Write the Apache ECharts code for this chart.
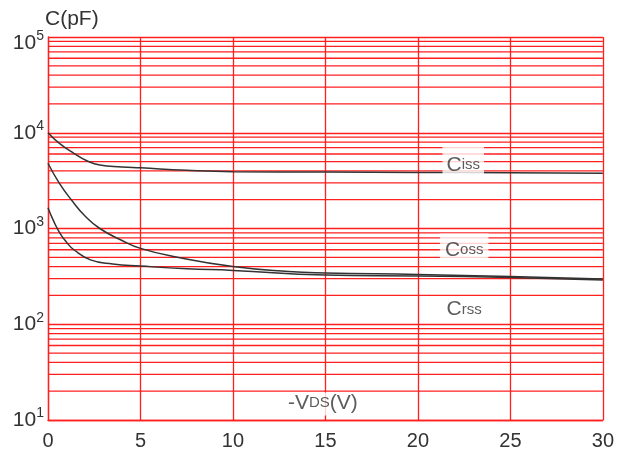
<!DOCTYPE html>
<html>
<head>
<meta charset="utf-8">
<script src="https://cdn.jsdelivr.net/npm/echarts@6/dist/echarts.min.js"></script>
<style>
html,body{margin:0;padding:0;background:#fff;}
#c{width:617px;height:453px;}
</style>
</head>
<body>
<div id="c"></div>
<script>
// Curve data: [ -VDS (V), C (pF) ]
const ciss = [[0,10000],[0.6,7800],[1.4,6100],[2.1,5100],[2.8,4600],[4,4400],[5,4300],[7.5,4050],[10,3920],[15,3880],[20,3850],[25,3820],[30,3780]];
const coss = [[0,4800],[0.6,3000],[1.3,1950],[2,1350],[2.8,1000],[4,750],[5,620],[7,500],[10,400],[13,355],[15,343],[20,331],[25,315],[30,297]];
const crss = [[0,1650],[0.3,1200],[0.65,890],[1,720],[1.4,600],[2.3,470],[3.5,425],[5,405],[7.5,380],[10,365],[15,327],[20,319],[25,308],[30,290]];
const xTicks = [0,5,10,15,20,25,30];
const yDecades = [10,100,1000,10000,100000];

// minor log grid positions (2..9 × each decade)
const minorGrid = [];
for (let d = 0; d < yDecades.length - 1; d++) {
  for (let k = 2; k <= 9; k++) minorGrid.push(yDecades[d] * k);
}

const RED = '#ff1f1f';
const TXT = '#333';
const FF = 'Liberation Sans';

const chart = echarts.init(document.getElementById('c'), null, {renderer:'canvas'});
chart.setOption({
  animation: false,
  color: [RED],
  backgroundColor: '#fff',
  grid: {left: 48, right: 12, top: 37, bottom: 33, containLabel: false},
  xAxis: {
    type: 'value', min: 0, max: 30, interval: 5,
    axisLine: {show: true, onZero: false, lineStyle: {color: RED, width: 1.3}},
    axisTick: {show: false},
    axisLabel: {fontSize: 20, color: TXT, margin: 11, fontFamily: FF},
    splitLine: {show: true, lineStyle: {color: RED, width: 1.3}}
  },
  yAxis: {
    type: 'log', min: 10, max: 100000, logBase: 10,
    name: 'C(pF)', nameLocation: 'end', nameGap: 4,
    nameTextStyle: {fontSize: 21, color: TXT, align: 'left', verticalAlign: 'bottom', padding: [0,0,0,-3], fontFamily: FF},
    axisLine: {show: true, onZero: false, lineStyle: {color: RED, width: 1.3}},
    axisTick: {show: false},
    minorTick: {show: false},
    minorSplitLine: {show: false},
    axisLabel: {
      margin: 4, color: TXT, fontFamily: FF,
      formatter: function (v) {
        const e = Math.round(Math.log10(v));
        if (e === 5) return '{bt|10}{st|' + e + '}';
        return '{b|10}{s|' + e + '}';
      },
      rich: {
        b: {fontSize: 21, color: TXT, fontFamily: FF},
        s: {fontSize: 14, color: TXT, padding: [0,0,13,0], fontFamily: FF},
        bt: {fontSize: 21, color: TXT, padding: [12,0,0,0], fontFamily: FF},
        st: {fontSize: 14, color: TXT, padding: [0,0,1,0], fontFamily: FF}
      }
    },
    splitLine: {show: true, lineStyle: {color: RED, width: 1.3}}
  },
  series: [
    {
      name: 'minorGrid', type: 'custom', silent: true, z: 4,
      data: minorGrid.map(v => [xTicks[0], v]),
      encode: {x: 0, y: 1},
      renderItem: function (params, api) {
        const v = api.value(1);
        const p0 = api.coord([xTicks[0], v]);
        const p1 = api.coord([xTicks[xTicks.length - 1], v]);
        return {
          type: 'line',
          shape: {x1: p0[0], y1: p0[1], x2: p1[0], y2: p1[1]},
          style: {stroke: RED, lineWidth: 1.3}
        };
      }
    },
    {name: 'Ciss', type: 'line', data: ciss, smooth: 0.5, symbol: 'none', z: 5,
     color: '#333', lineStyle: {color: '#333', width: 1.5}},
    {name: 'Coss', type: 'line', data: coss, smooth: 0.5, symbol: 'none', z: 5,
     color: '#333', lineStyle: {color: '#333', width: 1.5}},
    {name: 'Crss', type: 'line', data: crss, smooth: 0.5, symbol: 'none', z: 5,
     color: '#333', lineStyle: {color: '#333', width: 1.5}},
    {
      name: 'labels', type: 'scatter', symbolSize: 0, z: 10, silent: true,
      label: {show: true, position: 'inside', color: TXT, fontFamily: FF,
        rich: {
          a: {fontSize: 21, color: TXT, fontFamily: FF},
          b: {fontSize: 15, color: TXT, fontFamily: FF}
        }
      },
      data: [
        {value: [22.45, 5190], label: {formatter: '{a|C}{b|iss}', backgroundColor: '#fff', padding: [10,4,0,4]}},
        {value: [22.5, 625], label: {formatter: '{a|C}{b|oss}', backgroundColor: '#fff', padding: [6,5,2,5]}},
        {value: [22.5, 143], label: {formatter: '{a|C}{b|rss}', backgroundColor: '#fff', padding: [2,3,2,3]}},
        {value: [14.86, 14.7], label: {formatter: '{a|-V}{b|DS}{a|(V)}', backgroundColor: '#fff', padding: [0,3,2,3]}}
      ]
    }
  ]
});
</script>
</body>
</html>
